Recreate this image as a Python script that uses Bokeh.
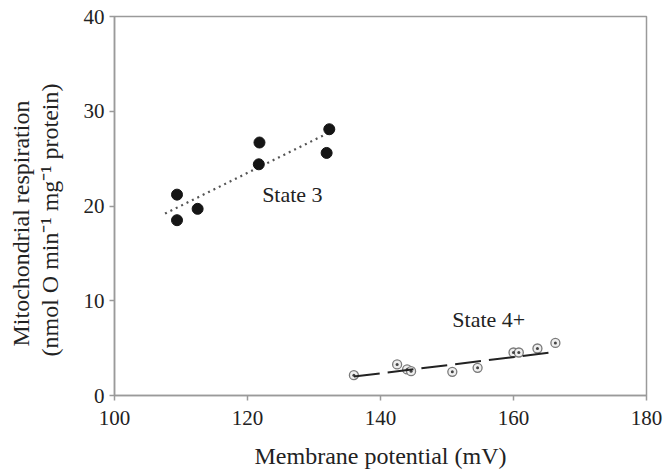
from bokeh.plotting import figure
from bokeh.models import FixedTicker, Label, Title
from bokeh.embed import file_html
from bokeh.resources import INLINE

# ---- data ----
state3_x = [109.4, 109.4, 112.5, 121.8, 121.7, 132.3, 131.9]
state3_y = [21.2, 18.5, 19.7, 26.7, 24.4, 28.1, 25.6]
state4_x = [136.0, 142.5, 144.0, 144.6, 150.8, 154.6, 160.0, 160.8, 163.6, 166.3]
state4_y = [2.15, 3.28, 2.75, 2.57, 2.5, 2.92, 4.54, 4.54, 4.96, 5.55]
trend3_x = [107.6, 133.0]
trend3_y = [19.2, 28.0]
trend4_x = [136.0, 166.3]
trend4_y = [2.0, 4.6]
x_ticks = [100, 120, 140, 160, 180]
y_ticks = [0, 10, 20, 30, 40]

FONT = "Liberation Serif"
GRAY = "#9a9a9a"
TXT = "#222222"

p = figure(width=663, height=471, x_range=(100, 180), y_range=(0, 40),
           output_backend="svg", toolbar_location=None,
           min_border_left=114, min_border_right=17, min_border_top=16,
           min_border_bottom=76)
p.grid.visible = False
p.outline_line_color = GRAY
p.outline_line_width = 1.5
p.background_fill_color = "white"
p.border_fill_color = "white"

for ax in (p.xaxis[0], p.yaxis[0]):
    ax.axis_line_color = GRAY
    ax.axis_line_width = 1.5
    ax.major_tick_line_color = GRAY
    ax.major_tick_line_width = 1.5
    ax.major_tick_out = 5
    ax.major_tick_in = 0
    ax.minor_tick_line_color = None
    ax.major_label_text_font = FONT
    ax.major_label_text_font_size = "21px"
    ax.major_label_text_color = TXT

p.xaxis.ticker = FixedTicker(ticks=x_ticks)
p.yaxis.ticker = FixedTicker(ticks=y_ticks)
p.xaxis.major_label_standoff = 10
p.xaxis.axis_label = "Membrane potential (mV)"
p.xaxis.axis_label_text_font = FONT
p.xaxis.axis_label_text_font_size = "24px"
p.xaxis.axis_label_text_font_style = "normal"
p.xaxis.axis_label_text_color = TXT
p.xaxis.axis_label_standoff = 15

# y-axis title (two lines), inner line first
p.add_layout(Title(text="(nmol O min\u207b\u00b9 mg\u207b\u00b9 protein)",
                   align="left", offset=39, standoff=36,
                   text_font=FONT, text_font_size="24px",
                   text_font_style="normal", text_color=TXT), "left")
p.add_layout(Title(text="Mitochondrial respiration",
                   align="left", offset=49, standoff=-35,
                   text_font=FONT, text_font_size="24px",
                   text_font_style="normal", text_color=TXT), "left")

# State 3
p.line(trend3_x, trend3_y, line_color="#555555", line_width=2.2,
       line_dash="2 4")
p.scatter(state3_x, state3_y, size=11, fill_color="#151515",
          line_color="#151515")

# State 4+
p.scatter(state4_x, state4_y, size=9, fill_color="#eeeeee",
          line_color="#7a7a7a", line_width=1.3)
p.scatter(state4_x, state4_y, size=3, fill_color="#444444", line_color=None)
p.line(trend4_x, trend4_y, line_color="#222222", line_width=2,
       line_dash="26 8")

p.add_layout(Label(x=122.2, y=21.25, text="State 3", text_font=FONT,
                   text_font_size="22px", text_color=TXT,
                   text_baseline="alphabetic"))
p.add_layout(Label(x=150.8, y=8.0, text="State 4+", text_font=FONT,
                   text_font_size="22px", text_color=TXT,
                   text_baseline="alphabetic"))

open("out.html", "w").write(file_html(p, INLINE))
